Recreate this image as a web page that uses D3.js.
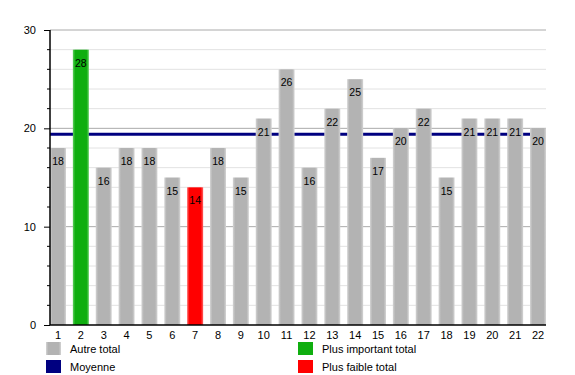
<!DOCTYPE html>
<html>
<head>
<meta charset="utf-8">
<script src="https://cdn.jsdelivr.net/npm/d3@7"></script>
<style>
  body { margin: 0; background: #fff; }
  text { font-family: "Liberation Sans", Arial, sans-serif; fill: #000; }
</style>
</head>
<body>
<script>
// data
let categories = ["1","2","3","4","5","6","7","8","9","10","11","12","13","14","15","16","17","18","19","20","21","22"]
let totals = [18,28,16,18,18,15,14,18,15,21,26,16,22,25,17,20,22,15,21,21,21,20]
let yTicks = [0,10,20,30]
let legendItems = ["Autre total","Moyenne","Plus important total","Plus faible total"]

let w = 575, h = 375
let padL = 50, padR = 546, padT = 30, padB = 325
let barW = 16

let svg = d3.select("body").append("svg").attr("width", w).attr("height", h)

let defs = svg.append("defs")
function grad(id, mid, edge) {
    let g = defs.append("linearGradient").attr("id", id)
    g.append("stop").attr("offset", "0%").attr("stop-color", edge)
    g.append("stop").attr("offset", "15%").attr("stop-color", mid)
    g.append("stop").attr("offset", "85%").attr("stop-color", mid)
    g.append("stop").attr("offset", "100%").attr("stop-color", edge)
}
grad("gGray", "#b3b3b3", "#d4d4d4")
grad("gGreen", "#0fae0f", "#5fd05f")
grad("gRed", "#ff0000", "#ff6060")

let y = d3.scaleLinear().domain([0, 30]).range([padB, padT])
let x = d3.scalePoint().domain(categories).range([padL, padR - barW])

// gridlines
let minor = d3.range(2, 30, 2).filter(v => v % 10 != 0)
svg.selectAll(".minor").data(minor).enter().append("line")
    .attr("x1", padL).attr("x2", padR)
    .attr("y1", d => y(d)).attr("y2", d => y(d))
    .attr("stroke", "#e2e2e2").attr("stroke-width", 1)
svg.selectAll(".major").data([10, 20, 30]).enter().append("line")
    .attr("x1", padL).attr("x2", padR)
    .attr("y1", d => y(d)).attr("y2", d => y(d))
    .attr("stroke", "#aaaaaa").attr("stroke-width", 1)

let maxV = d3.max(totals), minV = d3.min(totals)
let data = categories.map((c, i) => ({cat: c, v: totals[i]}))

// mean line (drawn behind the bars)
let mean = d3.mean(totals)
svg.append("line")
    .attr("x1", padL).attr("x2", padR)
    .attr("y1", y(mean)).attr("y2", y(mean))
    .attr("stroke", "#000080").attr("stroke-width", 3)

// bars
svg.selectAll(".bar").data(data).enter().append("rect")
    .attr("x", d => x(d.cat))
    .attr("y", d => y(d.v))
    .attr("width", barW)
    .attr("height", d => y(0) - y(d.v))
    .attr("fill", d => d.v == maxV ? "url(#gGreen)" : d.v == minV ? "url(#gRed)" : "url(#gGray)")

svg.selectAll(".val").data(data).enter().append("text")
    .attr("x", d => x(d.cat) + barW / 2)
    .attr("y", d => y(d.v) + 17)
    .attr("text-anchor", "middle")
    .attr("font-size", 10.5)
    .text(d => d.v)

// y axis
let yAxis = d3.axisLeft(y).tickValues(yTicks).tickSize(6).tickPadding(8)
let ga = svg.append("g").attr("transform", "translate(" + padL + ",0)").call(yAxis)
ga.select(".domain").remove()
ga.selectAll("text").attr("font-size", 11).attr("font-family", "Liberation Sans, Arial, sans-serif").attr("fill", "#000")
svg.selectAll(".mtick").data(d3.range(0, 31, 2).filter(v => v % 10 != 0)).enter().append("line")
    .attr("x1", padL - 3).attr("x2", padL)
    .attr("y1", d => y(d)).attr("y2", d => y(d))
    .attr("stroke", "#000")
svg.append("line").attr("x1", padL).attr("x2", padL).attr("y1", padT).attr("y2", padB)
    .attr("stroke", "#000").attr("stroke-width", 1.5)

// x axis
svg.append("line").attr("x1", padL).attr("x2", padR).attr("y1", padB).attr("y2", padB)
    .attr("stroke", "#000").attr("stroke-width", 1.5)
svg.selectAll(".xl").data(categories).enter().append("text")
    .attr("x", d => x(d) + barW / 2)
    .attr("y", padB + 14)
    .attr("text-anchor", "middle")
    .attr("font-size", 11)
    .text(d => d)

// legend
let legColors = ["url(#gGray)", "#000080", "#0fae0f", "#ff0000"]
let legPos = [[46, 342], [46, 360], [298, 342], [298, 360]]
legendItems.forEach((t, i) => {
    svg.append("rect").attr("x", legPos[i][0]).attr("y", legPos[i][1])
        .attr("width", 15).attr("height", 13).attr("fill", legColors[i])
    svg.append("text").attr("x", legPos[i][0] + 24).attr("y", legPos[i][1] + 11)
        .attr("font-size", 11).text(t)
})
</script>
</body>
</html>
